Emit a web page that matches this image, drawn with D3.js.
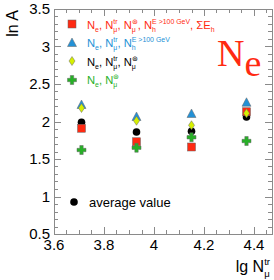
<!DOCTYPE html>
<html>
<head>
<meta charset="utf-8">
<script src="https://cdn.jsdelivr.net/npm/d3@7"></script>
<style>
  body { margin: 0; background: #fff; }
  text { font-family: "Liberation Sans", Arial, sans-serif; }
</style>
</head>
<body>
<div id="plot"></div>
<script>
// lg N_mu^tr bins
const lgNmu = [3.71, 3.93, 4.15, 4.37];
// ln A per parameter set
const lnA_all = [1.91, 1.73, 1.66, 2.13];      // red squares
const lnA_noMuStar = [2.22, 2.06, 2.10, 2.25]; // blue triangles
const lnA_noEh = [2.18, 2.01, 1.95, 2.11];     // yellow diamonds
const lnA_eMuStar = [1.62, 1.65, 1.79, 1.74];  // green crosses
const lnA_avg = [1.99, 1.86, 1.87, 2.06];      // black dots
const xTicks = [3.6, 3.8, 4, 4.2, 4.4];
const yTicks = [0.5, 1, 1.5, 2, 2.5, 3, 3.5];

const width = 274, height = 280;
const padL = 54, padR = 272, padT = 9, padB = 234;

const svg = d3.select("#plot").append("svg")
  .attr("width", width).attr("height", height);

const x = d3.scaleLinear().domain([3.6, 4.472]).range([padL, padR]);
const y = d3.scaleLinear().domain([0.5, 3.5]).range([padB, padT]);

const axisCol = "#8a8a8a";

// frame
svg.append("rect")
  .attr("x", padL + 0.5).attr("y", padT + 0.5)
  .attr("width", padR - padL).attr("height", padB - padT)
  .attr("fill", "none").attr("stroke", axisCol).attr("stroke-width", 1);

// ticks, ROOT style, on all four sides
const xMinor = d3.range(3.6, 4.4701, 0.05);
const yMinor = d3.range(0.5, 3.5001, 0.1);
function isMajor(v, step) { return Math.abs(v / step - Math.round(v / step)) < 1e-6; }

const tg = svg.append("g").attr("stroke", axisCol).attr("stroke-width", 1);
xMinor.forEach(function(v) {
  const len = isMajor(v, 0.2) ? 7 : 4;
  const px = Math.round(x(v)) + 0.5;
  tg.append("line").attr("x1", px).attr("x2", px).attr("y1", padB).attr("y2", padB - len);
  tg.append("line").attr("x1", px).attr("x2", px).attr("y1", padT).attr("y2", padT + len);
});
yMinor.forEach(function(v) {
  const len = isMajor(v, 0.5) ? 7 : 4;
  const py = Math.round(y(v)) + 0.5;
  tg.append("line").attr("x1", padL).attr("x2", padL + len).attr("y1", py).attr("y2", py);
  tg.append("line").attr("x1", padR).attr("x2", padR - len).attr("y1", py).attr("y2", py);
});

// tick labels
svg.selectAll(".xl").data(xTicks).join("text")
  .attr("x", d => x(d)).attr("y", 250)
  .attr("text-anchor", "middle").attr("font-size", 15)
  .text(d => d);
svg.selectAll(".yl").data(yTicks).join("text")
  .attr("x", 50).attr("y", d => y(d) + 5)
  .attr("text-anchor", "end").attr("font-size", 15)
  .text(d => d);

// axis titles
svg.append("text")
  .attr("transform", "translate(18,10) rotate(-90)")
  .attr("text-anchor", "end").attr("font-size", 16)
  .text("ln A");

// draws text pieces: [base, sub, sup]
function richText(g, x0, y0, parts, size, color, scale) {
  let cx = x0;
  const small = size * (scale || 0.62);
  parts.forEach(function(p) {
    const t = g.append("text").attr("x", cx).attr("y", y0)
      .attr("font-size", size).attr("fill", color).text(p[0]);
    cx += t.node().getComputedTextLength();
    let w = 0;
    if (p[1]) {
      const s = g.append("text").attr("x", cx).attr("y", y0 + size * 0.3)
        .attr("font-size", small).attr("fill", color).text(p[1]);
      w = Math.max(w, s.node().getComputedTextLength());
    }
    if (p[2]) {
      const s = g.append("text").attr("x", cx).attr("y", y0 - size * 0.42)
        .attr("font-size", small).attr("fill", color).text(p[2]);
      w = Math.max(w, s.node().getComputedTextLength());
    }
    cx += w;
  });
  return cx;
}

// x title, right aligned
const xt = svg.append("g");
const xEnd = richText(xt, 0, 272, [["lg N", "\u03bc", "tr"]], 16, "#000", 0.6);
xt.attr("transform", "translate(" + (270 - xEnd) + ",0)");

// markers
const red = "#ff2a12", blue = "#2391d6", yel = "#d6f000", grn = "#27b027";
const outline = "#666";

function drawSquare(g, cx, cy) {
  g.append("rect").attr("x", cx - 4).attr("y", cy - 4).attr("width", 8).attr("height", 8)
    .attr("fill", red).attr("stroke", outline).attr("stroke-width", 0.5);
}
function drawTri(g, cx, cy) {
  g.append("path").attr("d", `M${cx},${cy - 5}L${cx + 4.5},${cy + 3.5}L${cx - 4.5},${cy + 3.5}Z`)
    .attr("fill", blue).attr("stroke", outline).attr("stroke-width", 0.5);
}
function drawDiamond(g, cx, cy) {
  g.append("path").attr("d", `M${cx},${cy - 4.5}L${cx + 3},${cy}L${cx},${cy + 4.5}L${cx - 3},${cy}Z`)
    .attr("fill", yel).attr("stroke", outline).attr("stroke-width", 0.5);
}
function drawCross(g, cx, cy) {
  const a = 4.5, b = 1.7;
  g.append("path").attr("d",
    `M${cx - b},${cy - a}H${cx + b}V${cy - b}H${cx + a}V${cy + b}H${cx + b}V${cy + a}H${cx - b}V${cy + b}H${cx - a}V${cy - b}H${cx - b}Z`)
    .attr("fill", grn).attr("stroke", outline).attr("stroke-width", 0.5);
}
function drawDot(g, cx, cy) {
  g.append("circle").attr("cx", cx).attr("cy", cy).attr("r", 3.8).attr("fill", "#000");
}

const pts = svg.append("g");
lgNmu.forEach((v, i) => drawDot(pts, x(v), y(lnA_avg[i])));
lgNmu.forEach((v, i) => drawSquare(pts, x(v), y(lnA_all[i])));
lgNmu.forEach((v, i) => drawTri(pts, x(v), y(lnA_noMuStar[i])));
lgNmu.forEach((v, i) => drawDiamond(pts, x(v), y(lnA_noEh[i])));
lgNmu.forEach((v, i) => drawCross(pts, x(v), y(lnA_eMuStar[i])));

// legend
const lg = svg.append("g");
drawSquare(lg, 72, 24);
drawTri(lg, 72, 43);
drawDiamond(lg, 72, 61);
drawCross(lg, 72, 80);
drawDot(lg, 74, 202);

const star = "\u229b";
richText(lg, 87, 29, [["N", "e"], [", N", "\u03bc", "tr"], [", N", "\u03bc", star], [", N", "h", "E >100 GeV"], [", \u03a3E", "h"]], 11.2, red);
richText(lg, 87, 47, [["N", "e"], [", N", "\u03bc", "tr"], [", N", "h", "E >100 GeV"]], 11.2, blue);
richText(lg, 87, 66, [["N", "e"], [", N", "\u03bc", "tr"], [", N", "\u03bc", star]], 11.2, "#000");
richText(lg, 87, 84, [["N", "e"], [", N", "\u03bc", star]], 11.2, grn);

lg.append("text").attr("x", 89).attr("y", 207).attr("font-size", 13).text("average value");

// big label, serif like the ROOT Times font
const big = svg.append("text").attr("x", 217).attr("y", 66)
  .style("font-family", "'Liberation Serif', 'Times New Roman', serif")
  .attr("font-size", 38).attr("fill", red);
big.append("tspan").text("N");
big.append("tspan").attr("dy", 10).text("e");
</script>
</body>
</html>
